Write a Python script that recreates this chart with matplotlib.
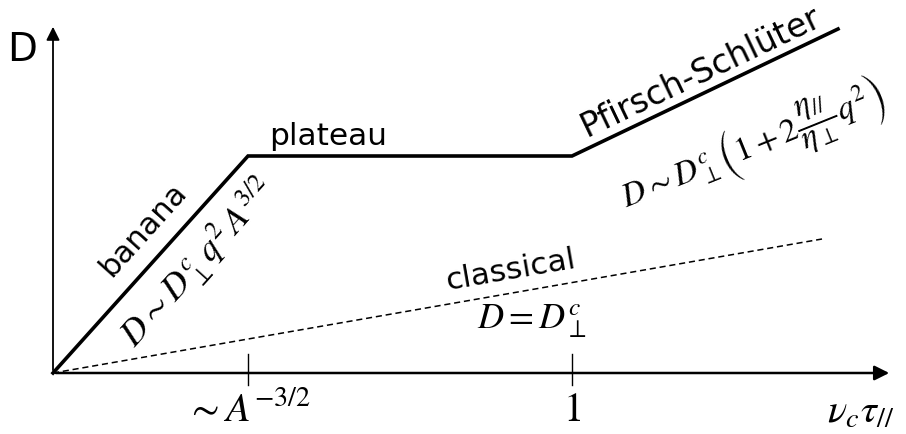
import numpy as np
import matplotlib
matplotlib.use("Agg")
import matplotlib.pyplot as plt

plt.rcParams['mathtext.fontset'] = 'stix'
plt.rcParams['font.family'] = ['DejaVu Sans']

# regime breakpoints of the diffusion curve (schematic units)
regime_x = [0, 195, 519, 785]
regime_y = [0, 217, 217, 344]
# classical diffusion (dashed)
classical_x = [0, 769]
classical_y = [0, 134]
# x-axis marks
tick_pos = [195, 519]
tick_labels = [r'$\sim A^{-3/2}$', r'$1$']

fig = plt.figure(figsize=(9.06, 4.35), dpi=100)
ax = fig.add_axes([0, 0, 1, 1])
ax.set_xlim(-53, 853)
ax.set_ylim(-61, 374)
ax.axis('off')

def slope(x0, y0, x1, y1):
    return np.degrees(np.arctan2(y1 - y0, x1 - x0))

# axes arrows
ax.annotate('', xy=(839, 0), xytext=(0, 0),
            arrowprops=dict(arrowstyle='-|>', lw=1.8, color='black', mutation_scale=22))
ax.annotate('', xy=(0, 349), xytext=(0, 0),
            arrowprops=dict(arrowstyle='-|>', lw=1.3, color='black', mutation_scale=20))

# curves
ax.plot(regime_x, regime_y, color='black', lw=2.6, solid_joinstyle='miter')
ax.plot(classical_x, classical_y, color='black', lw=1.1, ls=(0, (4, 2.5)))

# ticks
for xp, lab in zip(tick_pos, tick_labels):
    ax.plot([xp, xp], [-12, 19], color='black', lw=1.0)
    ax.text(xp, -36, lab, ha='center', va='center', fontsize=29)

ax.text(808, -37, r'$\nu_c\tau_{//}$', ha='center', va='center', fontsize=29)
ax.text(-31, 324, 'D', ha='center', va='center', fontsize=28)

a_ban = slope(regime_x[0], regime_y[0], regime_x[1], regime_y[1])
a_ps = slope(regime_x[2], regime_y[2], regime_x[3], regime_y[3])
a_cl = slope(classical_x[0], classical_y[0], classical_x[1], classical_y[1])

ax.text(90, 144, 'banana', ha='center', va='center', fontsize=22,
        rotation=a_ban, rotation_mode='anchor')
ax.text(275, 229, 'plateau', ha='center', va='baseline', fontsize=22.5)
ax.text(458, 104, 'classical', ha='center', va='center', fontsize=22.5,
        rotation=a_cl, rotation_mode='anchor')
ax.text(648, 302, 'Pfirsch-Schlüter', ha='center', va='center', fontsize=24,
        rotation=a_ps, rotation_mode='anchor')

ax.text(145, 111, r'$D\sim D_\perp^c q^2\, A^{3/2}$', ha='center', va='center',
        fontsize=26, rotation=a_ban, rotation_mode='anchor')
ax.text(479, 53, r'$D = D_\perp^c$', ha='center', va='center', fontsize=26)
ax.text(700, 226, r'$D\sim D_\perp^c\left(1+2\dfrac{\eta_{//}}{\eta_\perp}q^2\right)$',
        ha='center', va='center', fontsize=24, rotation=22, rotation_mode='anchor',
        clip_on=False)

fig.savefig('out.png', dpi=100)
